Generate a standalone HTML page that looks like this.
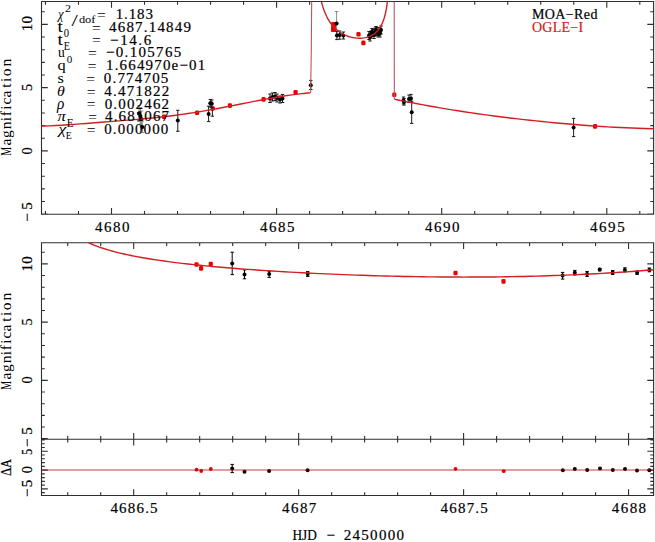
<!DOCTYPE html>
<html><head><meta charset="utf-8"><title>Light curve</title>
<style>html,body{margin:0;padding:0;background:#fff;width:655px;height:542px;overflow:hidden}svg{display:block}.tx text{stroke:currentColor}</style>
</head><body><svg width="655" height="542" viewBox="0 0 655 542" font-family="Liberation Serif, serif"><path d="M41.5 1.5H653.6V214.3H41.5Z M41.5 242.8H653.6V439.2H41.5Z M41.5 439.2H653.6V495.5H41.5Z M45.46 1.50L45.46 4.80 M45.46 214.30L45.46 211.00 M78.48 1.50L78.48 4.80 M78.48 214.30L78.48 211.00 M111.50 1.50L111.50 7.80 M111.50 214.30L111.50 208.00 M144.52 1.50L144.52 4.80 M144.52 214.30L144.52 211.00 M177.54 1.50L177.54 4.80 M177.54 214.30L177.54 211.00 M210.56 1.50L210.56 4.80 M210.56 214.30L210.56 211.00 M243.58 1.50L243.58 4.80 M243.58 214.30L243.58 211.00 M276.60 1.50L276.60 7.80 M276.60 214.30L276.60 208.00 M309.62 1.50L309.62 4.80 M309.62 214.30L309.62 211.00 M342.64 1.50L342.64 4.80 M342.64 214.30L342.64 211.00 M375.66 1.50L375.66 4.80 M375.66 214.30L375.66 211.00 M408.68 1.50L408.68 4.80 M408.68 214.30L408.68 211.00 M441.70 1.50L441.70 7.80 M441.70 214.30L441.70 208.00 M474.72 1.50L474.72 4.80 M474.72 214.30L474.72 211.00 M507.74 1.50L507.74 4.80 M507.74 214.30L507.74 211.00 M540.76 1.50L540.76 4.80 M540.76 214.30L540.76 211.00 M573.78 1.50L573.78 4.80 M573.78 214.30L573.78 211.00 M606.80 1.50L606.80 7.80 M606.80 214.30L606.80 208.00 M639.82 1.50L639.82 4.80 M639.82 214.30L639.82 211.00 M41.50 214.15L47.80 214.15 M653.60 214.15L647.30 214.15 M41.50 201.50L44.80 201.50 M653.60 201.50L650.30 201.50 M41.50 188.85L44.80 188.85 M653.60 188.85L650.30 188.85 M41.50 176.20L44.80 176.20 M653.60 176.20L650.30 176.20 M41.50 163.55L44.80 163.55 M653.60 163.55L650.30 163.55 M41.50 150.90L47.80 150.90 M653.60 150.90L647.30 150.90 M41.50 138.25L44.80 138.25 M653.60 138.25L650.30 138.25 M41.50 125.60L44.80 125.60 M653.60 125.60L650.30 125.60 M41.50 112.95L44.80 112.95 M653.60 112.95L650.30 112.95 M41.50 100.30L44.80 100.30 M653.60 100.30L650.30 100.30 M41.50 87.65L47.80 87.65 M653.60 87.65L647.30 87.65 M41.50 75.00L44.80 75.00 M653.60 75.00L650.30 75.00 M41.50 62.35L44.80 62.35 M653.60 62.35L650.30 62.35 M41.50 49.70L44.80 49.70 M653.60 49.70L650.30 49.70 M41.50 37.05L44.80 37.05 M653.60 37.05L650.30 37.05 M41.50 24.40L47.80 24.40 M653.60 24.40L647.30 24.40 M41.50 11.75L44.80 11.75 M653.60 11.75L650.30 11.75 M67.72 242.80L67.72 246.10 M67.72 439.20L67.72 435.90 M67.72 439.20L67.72 442.50 M67.72 495.50L67.72 492.20 M100.71 242.80L100.71 246.10 M100.71 439.20L100.71 435.90 M100.71 439.20L100.71 442.50 M100.71 495.50L100.71 492.20 M133.70 242.80L133.70 249.10 M133.70 439.20L133.70 432.90 M133.70 439.20L133.70 445.50 M133.70 495.50L133.70 489.20 M166.69 242.80L166.69 246.10 M166.69 439.20L166.69 435.90 M166.69 439.20L166.69 442.50 M166.69 495.50L166.69 492.20 M199.68 242.80L199.68 246.10 M199.68 439.20L199.68 435.90 M199.68 439.20L199.68 442.50 M199.68 495.50L199.68 492.20 M232.67 242.80L232.67 246.10 M232.67 439.20L232.67 435.90 M232.67 439.20L232.67 442.50 M232.67 495.50L232.67 492.20 M265.66 242.80L265.66 246.10 M265.66 439.20L265.66 435.90 M265.66 439.20L265.66 442.50 M265.66 495.50L265.66 492.20 M298.65 242.80L298.65 249.10 M298.65 439.20L298.65 432.90 M298.65 439.20L298.65 445.50 M298.65 495.50L298.65 489.20 M331.64 242.80L331.64 246.10 M331.64 439.20L331.64 435.90 M331.64 439.20L331.64 442.50 M331.64 495.50L331.64 492.20 M364.63 242.80L364.63 246.10 M364.63 439.20L364.63 435.90 M364.63 439.20L364.63 442.50 M364.63 495.50L364.63 492.20 M397.62 242.80L397.62 246.10 M397.62 439.20L397.62 435.90 M397.62 439.20L397.62 442.50 M397.62 495.50L397.62 492.20 M430.61 242.80L430.61 246.10 M430.61 439.20L430.61 435.90 M430.61 439.20L430.61 442.50 M430.61 495.50L430.61 492.20 M463.60 242.80L463.60 249.10 M463.60 439.20L463.60 432.90 M463.60 439.20L463.60 445.50 M463.60 495.50L463.60 489.20 M496.59 242.80L496.59 246.10 M496.59 439.20L496.59 435.90 M496.59 439.20L496.59 442.50 M496.59 495.50L496.59 492.20 M529.58 242.80L529.58 246.10 M529.58 439.20L529.58 435.90 M529.58 439.20L529.58 442.50 M529.58 495.50L529.58 492.20 M562.57 242.80L562.57 246.10 M562.57 439.20L562.57 435.90 M562.57 439.20L562.57 442.50 M562.57 495.50L562.57 492.20 M595.56 242.80L595.56 246.10 M595.56 439.20L595.56 435.90 M595.56 439.20L595.56 442.50 M595.56 495.50L595.56 492.20 M628.55 242.80L628.55 249.10 M628.55 439.20L628.55 432.90 M628.55 439.20L628.55 445.50 M628.55 495.50L628.55 489.20 M41.50 438.65L47.80 438.65 M653.60 438.65L647.30 438.65 M41.50 427.00L44.80 427.00 M653.60 427.00L650.30 427.00 M41.50 415.35L44.80 415.35 M653.60 415.35L650.30 415.35 M41.50 403.70L44.80 403.70 M653.60 403.70L650.30 403.70 M41.50 392.05L44.80 392.05 M653.60 392.05L650.30 392.05 M41.50 380.40L47.80 380.40 M653.60 380.40L647.30 380.40 M41.50 368.75L44.80 368.75 M653.60 368.75L650.30 368.75 M41.50 357.10L44.80 357.10 M653.60 357.10L650.30 357.10 M41.50 345.45L44.80 345.45 M653.60 345.45L650.30 345.45 M41.50 333.80L44.80 333.80 M653.60 333.80L650.30 333.80 M41.50 322.15L47.80 322.15 M653.60 322.15L647.30 322.15 M41.50 310.50L44.80 310.50 M653.60 310.50L650.30 310.50 M41.50 298.85L44.80 298.85 M653.60 298.85L650.30 298.85 M41.50 287.20L44.80 287.20 M653.60 287.20L650.30 287.20 M41.50 275.55L44.80 275.55 M653.60 275.55L650.30 275.55 M41.50 263.90L47.80 263.90 M653.60 263.90L647.30 263.90 M41.50 252.25L44.80 252.25 M653.60 252.25L650.30 252.25 M41.50 492.66L44.80 492.66 M653.60 492.66L650.30 492.66 M41.50 488.90L47.80 488.90 M653.60 488.90L647.30 488.90 M41.50 485.14L44.80 485.14 M653.60 485.14L650.30 485.14 M41.50 481.38L44.80 481.38 M653.60 481.38L650.30 481.38 M41.50 477.62L44.80 477.62 M653.60 477.62L650.30 477.62 M41.50 473.86L44.80 473.86 M653.60 473.86L650.30 473.86 M41.50 470.10L47.80 470.10 M653.60 470.10L647.30 470.10 M41.50 466.34L44.80 466.34 M653.60 466.34L650.30 466.34 M41.50 462.58L44.80 462.58 M653.60 462.58L650.30 462.58 M41.50 458.82L44.80 458.82 M653.60 458.82L650.30 458.82 M41.50 455.06L44.80 455.06 M653.60 455.06L650.30 455.06 M41.50 451.30L47.80 451.30 M653.60 451.30L647.30 451.30 M41.50 447.54L44.80 447.54 M653.60 447.54L650.30 447.54 M41.50 443.78L44.80 443.78 M653.60 443.78L650.30 443.78 M41.50 440.02L44.80 440.02 M653.60 440.02L650.30 440.02" fill="none" stroke="#2e2e2e" stroke-width="1.1"/><clipPath id="ct"><rect x="41.5" y="1.5" width="612.1" height="212.8"/></clipPath><clipPath id="cm"><rect x="41.5" y="242.8" width="612.1" height="196.39999999999998"/></clipPath><rect x="331.2" y="22.3" width="4.9" height="9.2" fill="#ee0000"/><g fill="#ee0000"><rect x="161.90" y="114.40" width="4.2" height="4.6" rx="1.3"/><rect x="195.00" y="110.50" width="4.2" height="4.6" rx="1.3"/><rect x="210.60" y="106.20" width="4.2" height="4.6" rx="1.3"/><rect x="227.80" y="103.30" width="4.2" height="4.6" rx="1.3"/><rect x="261.50" y="97.10" width="4.2" height="4.6" rx="1.3"/><rect x="293.50" y="90.00" width="4.2" height="4.6" rx="1.3"/><rect x="331.60" y="21.90" width="4.2" height="4.6" rx="1.3"/><rect x="331.40" y="24.20" width="4.2" height="4.6" rx="1.3"/><rect x="331.20" y="26.90" width="4.2" height="4.6" rx="1.3"/><rect x="331.10" y="27.50" width="4.2" height="4.6" rx="1.3"/><rect x="356.40" y="31.90" width="4.2" height="4.6" rx="1.3"/><rect x="361.30" y="40.60" width="4.2" height="4.6" rx="1.3"/><rect x="392.20" y="92.50" width="4.2" height="4.6" rx="1.3"/><rect x="593.00" y="124.10" width="4.2" height="4.6" rx="1.3"/></g><path d="M336.60 11.50V35.50M334.90 11.50h3.40M334.90 35.50h3.40 M139.00 105.50V121.50M137.30 105.50h3.40M137.30 121.50h3.40 M140.40 108.00V124.00M138.70 108.00h3.40M138.70 124.00h3.40 M141.50 111.00V127.00M139.80 111.00h3.40M139.80 127.00h3.40 M142.30 121.00V132.50M140.60 121.00h3.40M140.60 132.50h3.40" stroke="#8a8a8a" stroke-width="1" fill="none"/><g fill="#000"><circle cx="336.60" cy="23.50" r="2.0"/><circle cx="139.00" cy="113.50" r="2.0"/><circle cx="140.40" cy="116.00" r="2.0"/><circle cx="141.50" cy="119.00" r="2.0"/><circle cx="142.30" cy="127.00" r="2.0"/></g><path d="M212.40 107.40V116.20M210.70 107.40h3.40M210.70 116.20h3.40" stroke="#1a1a1a" stroke-width="1" fill="none"/><g fill="none"><circle cx="212.40" cy="111.80" r="2.0"/></g><path d="M177.80 110.30V131.30M176.10 110.30h3.40M176.10 131.30h3.40 M208.60 106.20V121.60M206.90 106.20h3.40M206.90 121.60h3.40 M210.30 99.40V107.00M208.60 99.40h3.40M208.60 107.00h3.40 M211.80 100.00V107.60M210.10 100.00h3.40M210.10 107.60h3.40 M270.00 94.00V102.50M268.30 94.00h3.40M268.30 102.50h3.40 M272.50 93.00V101.00M270.80 93.00h3.40M270.80 101.00h3.40 M275.00 92.50V100.50M273.30 92.50h3.40M273.30 100.50h3.40 M277.00 94.00V102.00M275.30 94.00h3.40M275.30 102.00h3.40 M280.00 96.00V103.00M278.30 96.00h3.40M278.30 103.00h3.40 M282.50 94.50V102.50M280.80 94.50h3.40M280.80 102.50h3.40 M310.80 80.40V89.50M309.10 80.40h3.40M309.10 89.50h3.40 M336.90 31.40V39.60M335.20 31.40h3.40M335.20 39.60h3.40 M339.70 31.00V39.20M338.00 31.00h3.40M338.00 39.20h3.40 M343.40 32.00V39.00M341.70 32.00h3.40M341.70 39.00h3.40 M369.00 31.50V39.50M367.30 31.50h3.40M367.30 39.50h3.40 M371.00 31.00V38.00M369.30 31.00h3.40M369.30 38.00h3.40 M373.00 29.50V36.50M371.30 29.50h3.40M371.30 36.50h3.40 M375.00 28.00V36.00M373.30 28.00h3.40M373.30 36.00h3.40 M377.00 27.50V35.50M375.30 27.50h3.40M375.30 35.50h3.40 M379.00 27.50V35.50M377.30 27.50h3.40M377.30 35.50h3.40 M380.00 29.00V37.00M378.30 29.00h3.40M378.30 37.00h3.40 M370.00 33.00V41.00M368.30 33.00h3.40M368.30 41.00h3.40 M372.00 28.50V35.50M370.30 28.50h3.40M370.30 35.50h3.40 M376.00 26.50V33.50M374.30 26.50h3.40M374.30 33.50h3.40 M374.00 31.50V38.50M372.30 31.50h3.40M372.30 38.50h3.40 M378.00 30.00V37.00M376.30 30.00h3.40M376.30 37.00h3.40 M381.00 26.00V34.00M379.30 26.00h3.40M379.30 34.00h3.40 M403.50 97.00V104.00M401.80 97.00h3.40M401.80 104.00h3.40 M404.00 98.50V105.10M402.30 98.50h3.40M402.30 105.10h3.40 M409.00 95.00V102.50M407.30 95.00h3.40M407.30 102.50h3.40 M411.00 94.40V102.50M409.30 94.40h3.40M409.30 102.50h3.40 M411.70 101.20V123.40M410.00 101.20h3.40M410.00 123.40h3.40 M573.60 118.40V136.60M571.90 118.40h3.40M571.90 136.60h3.40" stroke="#1a1a1a" stroke-width="1" fill="none"/><g fill="#000"><circle cx="177.80" cy="120.60" r="2.0"/><circle cx="208.60" cy="113.90" r="2.0"/><circle cx="210.30" cy="103.20" r="2.0"/><circle cx="211.80" cy="103.80" r="2.0"/><circle cx="270.00" cy="98.50" r="2.0"/><circle cx="272.50" cy="97.00" r="2.0"/><circle cx="275.00" cy="96.50" r="2.0"/><circle cx="277.00" cy="98.00" r="2.0"/><circle cx="280.00" cy="99.50" r="2.0"/><circle cx="282.50" cy="98.50" r="2.0"/><circle cx="310.80" cy="85.20" r="2.0"/><circle cx="336.90" cy="35.50" r="2.0"/><circle cx="339.70" cy="35.10" r="2.0"/><circle cx="343.40" cy="35.50" r="2.0"/><circle cx="369.00" cy="35.50" r="2.0"/><circle cx="371.00" cy="34.50" r="2.0"/><circle cx="373.00" cy="33.00" r="2.0"/><circle cx="375.00" cy="32.00" r="2.0"/><circle cx="377.00" cy="31.50" r="2.0"/><circle cx="379.00" cy="31.50" r="2.0"/><circle cx="380.00" cy="33.00" r="2.0"/><circle cx="370.00" cy="37.00" r="2.0"/><circle cx="372.00" cy="32.00" r="2.0"/><circle cx="376.00" cy="30.00" r="2.0"/><circle cx="374.00" cy="35.00" r="2.0"/><circle cx="378.00" cy="33.50" r="2.0"/><circle cx="381.00" cy="30.00" r="2.0"/><circle cx="403.50" cy="100.50" r="2.0"/><circle cx="404.00" cy="102.00" r="2.0"/><circle cx="409.00" cy="99.00" r="2.0"/><circle cx="411.00" cy="98.50" r="2.0"/><circle cx="411.70" cy="112.30" r="2.0"/><circle cx="573.60" cy="127.40" r="2.0"/></g><g fill="#ee0000"><rect x="194.40" y="262.20" width="4.2" height="4.6" rx="1.3"/><rect x="199.00" y="266.10" width="4.2" height="4.6" rx="1.3"/><rect x="208.70" y="261.70" width="4.2" height="4.6" rx="1.3"/><rect x="453.40" y="270.70" width="4.2" height="4.6" rx="1.3"/><rect x="501.40" y="279.10" width="4.2" height="4.6" rx="1.3"/></g><path d="M232.20 252.20V274.60M230.50 252.20h3.40M230.50 274.60h3.40 M244.50 270.00V278.80M242.80 270.00h3.40M242.80 278.80h3.40 M269.20 271.30V277.40M267.50 271.30h3.40M267.50 277.40h3.40 M307.70 271.60V276.40M306.00 271.60h3.40M306.00 276.40h3.40 M562.60 272.40V279.10M560.90 272.40h3.40M560.90 279.10h3.40 M574.80 270.40V275.00M573.10 270.40h3.40M573.10 275.00h3.40 M587.10 271.50V276.50M585.40 271.50h3.40M585.40 276.50h3.40 M599.70 268.40V270.90M598.00 268.40h3.40M598.00 270.90h3.40 M612.70 270.50V274.50M611.00 270.50h3.40M611.00 274.50h3.40 M624.90 267.80V271.90M623.20 267.80h3.40M623.20 271.90h3.40 M637.10 271.00V274.30M635.40 271.00h3.40M635.40 274.30h3.40 M649.40 268.00V271.80M647.70 268.00h3.40M647.70 271.80h3.40" stroke="#000" stroke-width="1" fill="none"/><g fill="#000"><circle cx="232.20" cy="263.50" r="2.0"/><circle cx="244.50" cy="274.50" r="2.0"/><circle cx="269.20" cy="274.10" r="2.0"/><circle cx="307.70" cy="274.10" r="2.0"/><circle cx="562.60" cy="275.60" r="2.0"/><circle cx="574.80" cy="272.70" r="2.0"/><circle cx="587.10" cy="273.90" r="2.0"/><circle cx="599.70" cy="269.60" r="2.0"/><circle cx="612.70" cy="272.40" r="2.0"/><circle cx="624.90" cy="269.90" r="2.0"/><circle cx="637.10" cy="272.70" r="2.0"/><circle cx="649.40" cy="269.90" r="2.0"/></g><g fill="#ee0000"><circle cx="196.60" cy="469.70" r="1.9"/><circle cx="201.20" cy="471.00" r="1.9"/><circle cx="210.80" cy="468.90" r="1.9"/><circle cx="455.50" cy="468.80" r="1.9"/><circle cx="503.70" cy="471.20" r="1.9"/></g><path d="M232.20 464.40V472.60M230.50 464.40h3.40M230.50 472.60h3.40" stroke="#000" stroke-width="1" fill="none"/><g fill="#000"><circle cx="232.20" cy="468.40" r="2.0"/><circle cx="244.50" cy="471.80" r="2.0"/><circle cx="269.10" cy="471.00" r="2.0"/><circle cx="307.60" cy="470.30" r="2.0"/><circle cx="562.80" cy="470.20" r="2.0"/><circle cx="574.80" cy="469.10" r="2.0"/><circle cx="587.20" cy="469.90" r="2.0"/><circle cx="600.00" cy="468.60" r="2.0"/><circle cx="612.80" cy="469.90" r="2.0"/><circle cx="625.00" cy="469.10" r="2.0"/><circle cx="637.00" cy="470.60" r="2.0"/><circle cx="649.40" cy="470.20" r="2.0"/></g><g clip-path="url(#ct)"><path d="M40.50 126.09L44.00 126.03L50.00 125.84L56.00 125.55L62.00 125.20L68.00 124.80L74.00 124.36L80.00 123.91L86.00 123.45L92.00 122.98L98.00 122.52L104.00 122.05L110.00 121.58L116.00 121.11L122.00 120.63L128.00 120.14L134.00 119.64L140.00 119.11L146.00 118.55L152.00 117.96L158.00 117.34L164.00 116.67L170.00 115.96L176.00 115.19L182.00 114.38L188.00 113.51L194.00 112.59L200.00 111.62L206.00 110.60L212.00 109.54L218.00 108.44L224.00 107.30L230.00 106.13L236.00 104.95L242.00 103.76L248.00 102.57L254.00 101.38L260.00 100.22L266.00 99.10L272.00 98.02L278.00 96.99L284.00 96.03L290.00 95.15L296.00 94.36L300.00 93.89L302.00 93.67L304.00 93.46L306.00 93.26L308.00 93.07L310.00 92.90L310.30 92.87 M320.37 -2.59L320.97 0.01L321.57 2.37L322.17 4.53L322.97 7.15L323.77 9.52L324.57 11.66L325.57 14.07L326.58 16.23L327.78 18.55L328.98 20.60L330.38 22.73L331.98 24.87L333.59 26.74L335.19 28.38L336.79 29.83L338.39 31.12L340.00 32.25L341.60 33.26L343.20 34.16L344.80 34.95L346.41 35.64L348.01 36.24L349.61 36.75L351.21 37.19L352.82 37.55L354.42 37.83L356.02 38.04L357.62 38.17L359.22 38.22L360.83 38.20L362.43 38.09L364.03 37.89L365.63 37.60L367.24 37.21L368.84 36.70L370.44 36.05L372.04 35.25L373.65 34.27L375.25 33.07L376.85 31.59L378.45 29.77L380.06 27.49L381.26 25.39L382.26 23.30L383.26 20.80L384.06 18.43L384.66 16.37L385.26 14.01L385.86 11.28L386.27 9.21L386.67 6.89L387.07 4.26L387.47 1.27L387.87 -2.19 M394.30 99.17L398.00 99.94L404.00 101.17L410.00 102.36L416.00 103.52L422.00 104.65L428.00 105.74L434.00 106.81L440.00 107.84L446.00 108.85L452.00 109.82L458.00 110.78L464.00 111.70L470.00 112.60L476.00 113.47L482.00 114.32L488.00 115.14L494.00 115.95L500.00 116.72L506.00 117.48L512.00 118.21L518.00 118.92L524.00 119.61L530.00 120.27L536.00 120.91L542.00 121.53L548.00 122.13L554.00 122.71L560.00 123.26L566.00 123.80L572.00 124.30L578.00 124.79L584.00 125.25L590.00 125.69L596.00 126.10L602.00 126.49L608.00 126.86L614.00 127.20L620.00 127.51L626.00 127.79L632.00 128.04L638.00 128.27L644.00 128.47L654.50 128.74" fill="none" stroke="#d21e22" stroke-width="1.4"/><path d="M310.6 92.9L311.3 50L311.7 -1M394.2 -1L394.35 99.2" fill="none" stroke="#b85560" stroke-width="1.1"/></g><g clip-path="url(#cm)"><path d="M82.00 239.48L84.00 240.54L86.00 241.54L88.00 242.49L90.00 243.39L92.00 244.24L94.00 245.06L96.00 245.84L98.00 246.58L100.00 247.30L102.00 247.98L104.00 248.63L106.00 249.26L108.00 249.87L110.00 250.45L112.00 251.02L114.00 251.56L116.00 252.08L118.00 252.59L120.00 253.08L122.00 253.55L124.00 254.01L126.00 254.46L128.00 254.89L130.00 255.31L132.00 255.72L134.00 256.12L136.00 256.51L138.00 256.88L140.00 257.25L146.00 258.30L152.00 259.27L158.00 260.18L164.00 261.04L170.00 261.84L176.00 262.60L182.00 263.32L188.00 264.01L194.00 264.66L200.00 265.28L206.00 265.87L212.00 266.43L218.00 266.98L224.00 267.50L230.00 268.00L236.00 268.48L242.00 268.94L248.00 269.39L254.00 269.82L260.00 270.23L266.00 270.63L272.00 271.01L278.00 271.38L284.00 271.74L290.00 272.09L296.00 272.42L302.00 272.74L308.00 273.05L314.00 273.34L320.00 273.63L326.00 273.90L332.00 274.16L338.00 274.41L344.00 274.65L350.00 274.88L356.00 275.10L362.00 275.31L368.00 275.50L374.00 275.69L380.00 275.86L386.00 276.02L392.00 276.17L398.00 276.31L404.00 276.44L410.00 276.56L416.00 276.67L422.00 276.76L428.00 276.84L434.00 276.91L440.00 276.97L446.00 277.02L452.00 277.05L458.00 277.07L464.00 277.08L470.00 277.07L476.00 277.06L482.00 277.03L488.00 276.98L494.00 276.93L500.00 276.85L506.00 276.77L512.00 276.67L518.00 276.56L524.00 276.43L530.00 276.29L536.00 276.13L542.00 275.96L548.00 275.77L554.00 275.57L560.00 275.35L566.00 275.12L572.00 274.87L578.00 274.60L584.00 274.32L590.00 274.02L596.00 273.70L602.00 273.37L608.00 273.01L614.00 272.64L620.00 272.26L626.00 271.85L632.00 271.43L638.00 270.99L644.00 270.53L654.50 269.67" fill="none" stroke="#d21e22" stroke-width="1.4"/></g><path d="M42.1 469.9H653.0" stroke="#a80000" stroke-opacity="0.5" stroke-width="1.5"/><g stroke-width="0.2" class="tx"><text x="95.00" y="231.90" font-size="15" textLength="34.53" lengthAdjust="spacing" fill="#000" >4680</text><text x="259.90" y="231.90" font-size="15" textLength="34.53" lengthAdjust="spacing" fill="#000" >4685</text><text x="425.00" y="231.90" font-size="15" textLength="34.53" lengthAdjust="spacing" fill="#000" >4690</text><text x="590.10" y="231.90" font-size="15" textLength="34.53" lengthAdjust="spacing" fill="#000" >4695</text><text x="110.40" y="513.00" font-size="15" textLength="47.19" lengthAdjust="spacing" fill="#000" >4686.5</text><text x="282.10" y="513.00" font-size="15" textLength="34.27" lengthAdjust="spacing" fill="#000" >4687</text><text x="440.60" y="513.00" font-size="15" textLength="47.19" lengthAdjust="spacing" fill="#000" >4687.5</text><text x="611.80" y="513.00" font-size="15" textLength="34.27" lengthAdjust="spacing" fill="#000" >4688</text><text transform="translate(32.10,31.20) rotate(-90)" x="-0.00" y="0" font-size="15" textLength="15.20" lengthAdjust="spacing" fill="#000" >10</text><text transform="translate(32.10,91.10) rotate(-90)" x="-0.00" y="0" font-size="15" textLength="7.10" lengthAdjust="spacingAndGlyphs" fill="#000" >5</text><text transform="translate(32.10,154.45) rotate(-90)" x="-0.00" y="0" font-size="15" textLength="7.10" lengthAdjust="spacingAndGlyphs" fill="#000" >0</text><text transform="translate(32.10,221.80) rotate(-90)" x="-0.00" y="0" font-size="15" textLength="19.61" lengthAdjust="spacing" fill="#000" >−5</text><text transform="translate(32.10,271.45) rotate(-90)" x="-0.00" y="0" font-size="15" textLength="15.20" lengthAdjust="spacing" fill="#000" >10</text><text transform="translate(32.10,325.45) rotate(-90)" x="-0.00" y="0" font-size="15" textLength="7.10" lengthAdjust="spacingAndGlyphs" fill="#000" >5</text><text transform="translate(32.10,383.45) rotate(-90)" x="-0.00" y="0" font-size="15" textLength="7.10" lengthAdjust="spacingAndGlyphs" fill="#000" >0</text><text transform="translate(32.10,446.90) rotate(-90)" x="-0.00" y="0" font-size="15" textLength="19.61" lengthAdjust="spacing" fill="#000" >−5</text><text transform="translate(32.10,455.05) rotate(-90)" x="-0.00" y="0" font-size="15" textLength="6.10" lengthAdjust="spacingAndGlyphs" fill="#000" >5</text><text transform="translate(32.10,473.15) rotate(-90)" x="-0.00" y="0" font-size="15" textLength="7.10" lengthAdjust="spacingAndGlyphs" fill="#000" >0</text><text transform="translate(32.10,497.10) rotate(-90)" x="-0.00" y="0" font-size="15" textLength="17.41" lengthAdjust="spacing" fill="#000" >−5</text><text transform="translate(11.10,476.00) rotate(-90)" x="-0.00" y="0" font-size="14.6" textLength="17.20" lengthAdjust="spacingAndGlyphs" fill="#000" >ΔA</text><text x="292.40" y="540.20" font-size="15" textLength="24.38" lengthAdjust="spacingAndGlyphs" fill="#000" >HJD</text><text x="326.60" y="540.20" font-size="15" textLength="8.48" lengthAdjust="spacingAndGlyphs" fill="#000" >−</text><text x="343.70" y="540.20" font-size="15" textLength="60.32" lengthAdjust="spacing" fill="#000" >2450000</text><text x="531.90" y="18.60" font-size="14" textLength="65.52" lengthAdjust="spacing" fill="#000" >MOA−Red</text><text x="531.90" y="32.10" font-size="14" textLength="51.19" lengthAdjust="spacing" fill="#d82020" style="color:#d82020">OGLE−I</text><text x="115.70" y="19.20" font-size="15" textLength="37.19" lengthAdjust="spacing" fill="#000" >1.183</text><text x="109.00" y="31.96" font-size="15" textLength="81.97" lengthAdjust="spacing" fill="#000" >4687.14849</text><text x="110.10" y="44.72" font-size="15" textLength="41.05" lengthAdjust="spacing" fill="#000" >−14.6</text><text x="106.00" y="57.48" font-size="15" textLength="75.26" lengthAdjust="spacing" fill="#000" >−0.105765</text><text x="106.00" y="70.24" font-size="15" textLength="99.24" lengthAdjust="spacing" fill="#000" >1.664970e−01</text><text x="103.80" y="83.00" font-size="15" textLength="64.54" lengthAdjust="spacing" fill="#000" >0.774705</text><text x="104.20" y="95.76" font-size="15" textLength="64.99" lengthAdjust="spacing" fill="#000" >4.471822</text><text x="104.70" y="108.52" font-size="15" textLength="64.42" lengthAdjust="spacing" fill="#000" >0.002462</text><text x="105.10" y="121.28" font-size="15" textLength="63.96" lengthAdjust="spacing" fill="#000" >4.681067</text><text x="104.20" y="134.04" font-size="15" textLength="64.08" lengthAdjust="spacing" fill="#000" >0.000000</text></g><g><text transform="translate(11.10,155.80) rotate(-90)" x="-0.00" y="0" font-size="14.5" textLength="8.79" lengthAdjust="spacingAndGlyphs" fill="#000" >M</text><text transform="translate(11.30,0) rotate(-90)" x="-145.45 -137.88 -129.28 -121.22 -116.15 -109.87 -104.55 -97.40 -87.77 -82.02 -76.28 -66.58" y="0" font-size="15.5" fill="#000">agnification</text><text transform="translate(11.10,389.80) rotate(-90)" x="-0.00" y="0" font-size="14.5" textLength="8.79" lengthAdjust="spacingAndGlyphs" fill="#000" >M</text><text transform="translate(11.30,0) rotate(-90)" x="-379.45 -371.88 -363.27 -355.22 -350.15 -343.87 -338.55 -331.40 -321.77 -316.02 -310.27 -300.57" y="0" font-size="15.5" fill="#000">agnification</text><text x="57.88" y="19.20" font-size="15" font-style="italic" textLength="5.60" lengthAdjust="spacingAndGlyphs" fill="#000" >χ</text><text x="64.90" y="11.90" font-size="11" textLength="6.00" lengthAdjust="spacingAndGlyphs" fill="#000" >2</text><text x="71.60" y="26.00" font-size="16.5" textLength="6.25" lengthAdjust="spacingAndGlyphs" fill="#000" >/</text><text x="78.90" y="23.20" font-size="10.4" textLength="16.48" lengthAdjust="spacingAndGlyphs" fill="#000" >dof</text><text x="97.00" y="19.96" font-size="14" textLength="8.78" lengthAdjust="spacingAndGlyphs" fill="#000" >=</text><text x="57.50" y="31.96" font-size="16" textLength="5.36" lengthAdjust="spacingAndGlyphs" fill="#000" >t</text><text x="63.80" y="37.26" font-size="12" textLength="5.30" lengthAdjust="spacingAndGlyphs" fill="#000" >0</text><text x="92.10" y="32.72" font-size="14" textLength="8.78" lengthAdjust="spacingAndGlyphs" fill="#000" >=</text><text x="57.50" y="44.92" font-size="16" textLength="5.36" lengthAdjust="spacingAndGlyphs" fill="#000" >t</text><text x="63.80" y="50.02" font-size="11.5" textLength="6.21" lengthAdjust="spacingAndGlyphs" fill="#000" >E</text><text x="92.10" y="45.48" font-size="14" textLength="8.78" lengthAdjust="spacingAndGlyphs" fill="#000" >=</text><text x="58.00" y="57.48" font-size="15" textLength="6.80" lengthAdjust="spacingAndGlyphs" fill="#000" >u</text><text x="66.70" y="62.88" font-size="11" textLength="5.50" lengthAdjust="spacingAndGlyphs" fill="#000" >0</text><text x="87.90" y="58.24" font-size="14" textLength="8.78" lengthAdjust="spacingAndGlyphs" fill="#000" >=</text><text x="57.50" y="70.24" font-size="14" textLength="8.20" lengthAdjust="spacingAndGlyphs" fill="#000" >q</text><text x="87.70" y="71.00" font-size="14" textLength="8.78" lengthAdjust="spacingAndGlyphs" fill="#000" >=</text><text x="57.50" y="83.00" font-size="14.5" textLength="6.39" lengthAdjust="spacingAndGlyphs" fill="#000" >s</text><text x="86.20" y="83.76" font-size="14" textLength="8.78" lengthAdjust="spacingAndGlyphs" fill="#000" >=</text><text x="57.00" y="95.76" font-size="13.7" font-style="italic" textLength="7.82" lengthAdjust="spacingAndGlyphs" fill="#000" >θ</text><text x="86.80" y="96.52" font-size="14" textLength="8.78" lengthAdjust="spacingAndGlyphs" fill="#000" >=</text><text x="57.06" y="108.52" font-size="15.7" font-style="italic" textLength="7.34" lengthAdjust="spacingAndGlyphs" fill="#000" >ρ</text><text x="86.80" y="109.28" font-size="14" textLength="8.78" lengthAdjust="spacingAndGlyphs" fill="#000" >=</text><text x="57.50" y="121.28" font-size="14.6" font-style="italic" textLength="8.30" lengthAdjust="spacingAndGlyphs" fill="#000" >π</text><text x="66.70" y="126.98" font-size="11.6" textLength="6.81" lengthAdjust="spacingAndGlyphs" fill="#000" >E</text><text x="88.20" y="122.04" font-size="14" textLength="8.78" lengthAdjust="spacingAndGlyphs" fill="#000" >=</text><text x="58.50" y="134.04" font-size="15" font-style="italic" textLength="7.76" lengthAdjust="spacingAndGlyphs" fill="#000" >χ</text><text x="65.70" y="139.34" font-size="11" textLength="6.01" lengthAdjust="spacingAndGlyphs" fill="#000" >E</text><text x="86.80" y="134.80" font-size="14" textLength="8.78" lengthAdjust="spacingAndGlyphs" fill="#000" >=</text></g></svg></body></html>
